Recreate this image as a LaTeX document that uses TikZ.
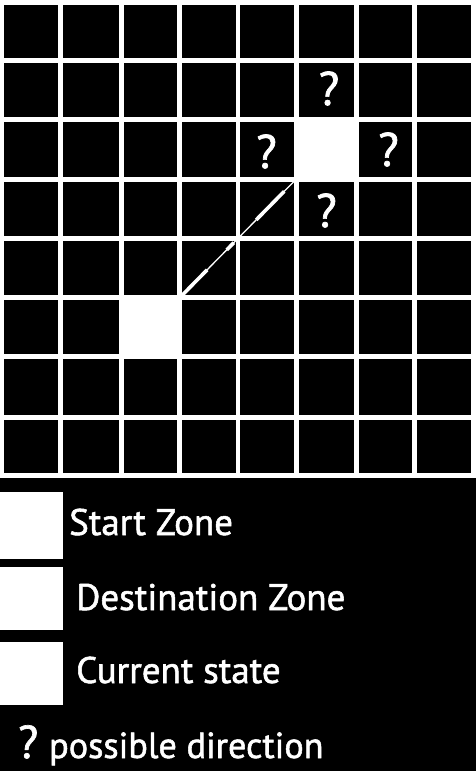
\documentclass[tikz,border=0pt]{standalone}
\usepackage{fontspec}
\setmainfont{PT Sans}
\newfontfamily\legfont[FakeBold=1.5]{PT Sans}
\begin{document}
\begin{tikzpicture}[x=1pt,y=-1pt,
  gridline/.style={white,line width=4.7pt},
  zonecell/.style={fill=white,draw=none,inner sep=0pt},
  qmark/.style={white,inner sep=0pt,font=\legfont\fontsize{47}{47}\selectfont},
  legbox/.style={fill=white,draw=none,inner sep=0pt,minimum width=63pt},
  legtext/.style={white,inner sep=0pt,anchor=base west,font=\legfont\fontsize{37}{37}\selectfont},
  pathline/.style={white,line width=1.3pt}
]
\useasboundingbox (0,0) rectangle (476,771);
\fill[black] (0,0) rectangle (476,771);
% grid
\foreach \yy in {2.3,60.3,119.2,179.2,238.3,297.8,356.5,417.2,475.3}
  \draw[gridline] (0,\yy) -- (476,\yy);
\foreach \xx in {2,60.5,121.3,179.3,238,296.3,356.5,414.3,473.7}
  \draw[gridline] (\xx,0) -- (\xx,477.6);
% zones
\node[zonecell,minimum width=62.7pt,minimum height=63.3pt] (start) at (150.35,327.35) {};
\node[zonecell,minimum width=65.3pt,minimum height=65pt] (cur) at (326.35,149.2) {};
\draw[pathline] (start.north east) -- (cur.south west);
\draw[white,line width=3.6pt,dash pattern=on 36pt off 28pt on 10pt off 32pt on 40pt off 20pt]
  (start.north east) -- (cur.south west);
% possible directions
\node[qmark] (qup) at (329,88.5) {?};
\node[qmark] (qleft) at (266.5,151.5) {?};
\node[qmark] (qright) at (388.5,149.5) {?};
\node[qmark] (qdown) at (326.5,210.5) {?};
% legend
\node[legbox,minimum height=66.6pt,anchor=north west] (lstart) at (0,491.7) {};
\node[legbox,minimum height=63.3pt,anchor=north west] (ldest) at (0,566.7) {};
\node[legbox,minimum height=63.3pt,anchor=north west] (lcur) at (0,641.7) {};
\node[legtext] (tstart) at (69,535) {Start Zone};
\node[legtext] (tdest) at (76,610) {Destination Zone};
\node[legtext] (tcur) at (76,683) {Current state};
\node[legtext,font=\legfont\fontsize{46}{46}\selectfont] (tq) at (18,758) {?};
\node[legtext,font=\legfont\fontsize{36.2}{36.2}\selectfont] (tposs) at (49,758) {possible direction};
\end{tikzpicture}
\end{document}
